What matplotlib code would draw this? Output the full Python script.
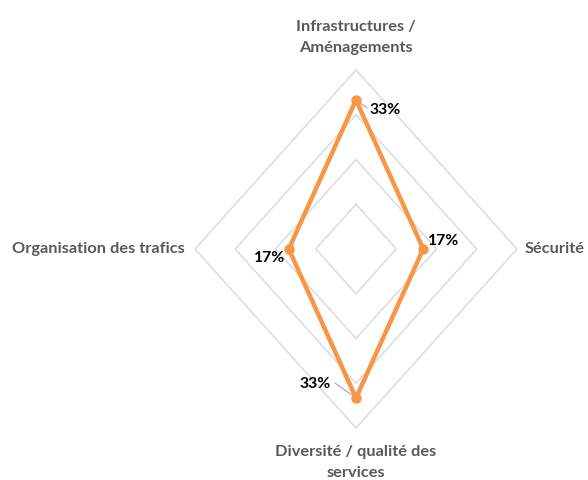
import numpy as np
import matplotlib
matplotlib.use("Agg")
import matplotlib.pyplot as plt

categories = ["Infrastructures /\nAménagements", "Sécurité",
              "Diversité / qualité des\nservices", "Organisation des trafics"]
values = [0.333, 0.167, 0.333, 0.167]
value_labels = ["33%", "17%", "33%", "17%"]
grid_levels = [0.1, 0.2, 0.3, 0.4]

plt.rcParams['font.family'] = ['Lato', 'DejaVu Sans']

W, H = 588, 480
fig = plt.figure(figsize=(W / 100, H / 100), dpi=100)
ax = fig.add_axes([0, 0, 1, 1])
cx, cy = 356, 249
sx, sy = 402.5, 447.5
ax.set_xlim(-cx / sx, (W - cx) / sx)
ax.set_ylim(-(H - cy) / sy, cy / sy)
ax.axis('off')

angles = np.array([0, 90, 180, 270]) * np.pi / 180.0


def xy(r, a):
    return r * np.sin(a), r * np.cos(a)


# grid diamonds
for lvl in grid_levels:
    gx, gy = xy(lvl, np.append(angles, angles[0]))
    ax.plot(gx, gy, color='#d9d9d9', lw=1.0, zorder=1)

# data
vals = np.array(values)
dx, dy = xy(np.append(vals, vals[0]), np.append(angles, angles[0]))
ax.plot(dx, dy, color='#f79646', lw=3.2, zorder=3, solid_joinstyle='miter')
ax.plot(dx[:-1], dy[:-1], 'o', color='#f79646', ms=6.5, zorder=4)

# data labels
offsets = [(29, -10), (20, 8), (-41, 14), (-19, -9)]
leaders = [True, False, True, False]
for i, (v, a, lab) in enumerate(zip(values, angles, value_labels)):
    px, py = xy(v, a)
    ox, oy = offsets[i]
    ax.annotate(lab, (px, py), xytext=(ox, oy), textcoords='offset pixels',
                ha='center', va='center', fontsize=11.3, fontweight='bold',
                color='#000000', zorder=5)
    if leaders[i]:
        if ox > 0:
            ax.annotate('', (px, py), xytext=(ox - 18, oy + 2),
                        textcoords='offset pixels',
                        arrowprops=dict(arrowstyle='-', color='#a6a6a6', lw=0.8,
                                        shrinkA=0, shrinkB=4))
        else:
            ax.annotate('', (px, py), xytext=(ox + 20, oy + 1),
                        textcoords='offset pixels',
                        arrowprops=dict(arrowstyle='-', color='#a6a6a6', lw=0.8,
                                        shrinkA=0, shrinkB=4))

# category labels
lab_kw = dict(fontsize=11.8, fontweight='bold', color='#595959', linespacing=1.65)
ax.text(0, 0.4726, categories[0], ha='center', va='center', **lab_kw)
ax.text(0.42, 0.0, categories[1], ha='left', va='center', **lab_kw)
ax.text(0, -0.4775, categories[2], ha='center', va='center', **lab_kw)
ax.text(-0.425, 0.0, categories[3], ha='right', va='center', **lab_kw)

fig.savefig("out.png", dpi=100, facecolor='white')
